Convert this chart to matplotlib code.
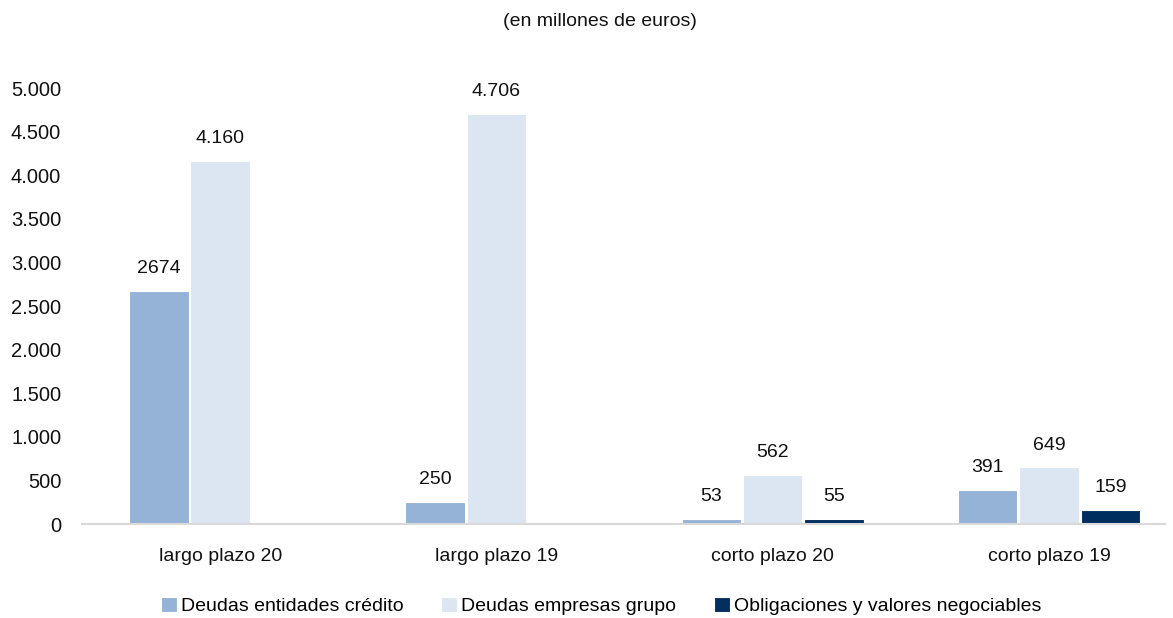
import matplotlib.pyplot as plt
import numpy as np

plt.rcParams['font.family'] = ['Liberation Sans', 'DejaVu Sans']

categories = ['largo plazo 20', 'largo plazo 19', 'corto plazo 20', 'corto plazo 19']
series_names = ['Deudas entidades crédito', 'Deudas empresas grupo', 'Obligaciones y valores negociables']
entidades = [2674, 250, 53, 391]
empresas = [4160, 4706, 562, 649]
obligaciones = [0, 0, 55, 159]
labels_entidades = ['2674', '250', '53', '391']
labels_empresas = ['4.160', '4.706', '562', '649']
labels_obligaciones = ['', '', '55', '159']
colors = ['#95B3D7', '#DCE6F2', '#002F5F']

fig = plt.figure(figsize=(11.73, 6.18), dpi=100)
ax = fig.add_axes([82 / 1173, 1 - 524 / 618, (1165 - 82) / 1173, (524 - 88) / 618])

x = np.arange(len(categories))
w = 0.215
step = 0.222
series = [entidades, empresas, obligaciones]
labels = [labels_entidades, labels_empresas, labels_obligaciones]
for i, (vals, labs) in enumerate(zip(series, labels)):
    pos = x + (i - 1) * step
    ax.bar(pos, vals, width=w, color=colors[i], edgecolor='white', linewidth=0.8,
           label=series_names[i])
    for p, v, t in zip(pos, vals, labs):
        if t:
            ax.annotate(t, (p, v), xytext=(0, 10), textcoords='offset points',
                        ha='center', va='bottom', fontsize=14, color='#111111')

ax.set_xlim(-0.5, 3.42)
ax.set_ylim(0, 5000)
ax.set_yticks(np.arange(0, 5001, 500))
ax.set_yticklabels(['{:,}'.format(v).replace(',', '.') for v in range(0, 5001, 500)])
ax.set_xticks(x)
ax.set_xticklabels(categories)
ax.tick_params(axis='both', length=0, labelsize=14, colors='#111111')
ax.tick_params(axis='y', labelsize=14.5, pad=15)
ax.tick_params(axis='x', pad=17)
for s in ['top', 'right', 'left']:
    ax.spines[s].set_visible(False)
ax.spines['bottom'].set_color('#D9D9D9')
ax.spines['bottom'].set_linewidth(1.5)

fig.text(600 / 1173, 1 - 22 / 618, '(en millones de euros)', ha='center', va='center',
         fontsize=14, color='#111111')

fig.legend(loc='center', bbox_to_anchor=(601 / 1173, 1 - 606 / 618), ncol=3, frameon=False,
           fontsize=14, handlelength=0.82, handleheight=0.82, handletextpad=0.2,
           columnspacing=1.95)

fig.savefig('out.png', dpi=100)
